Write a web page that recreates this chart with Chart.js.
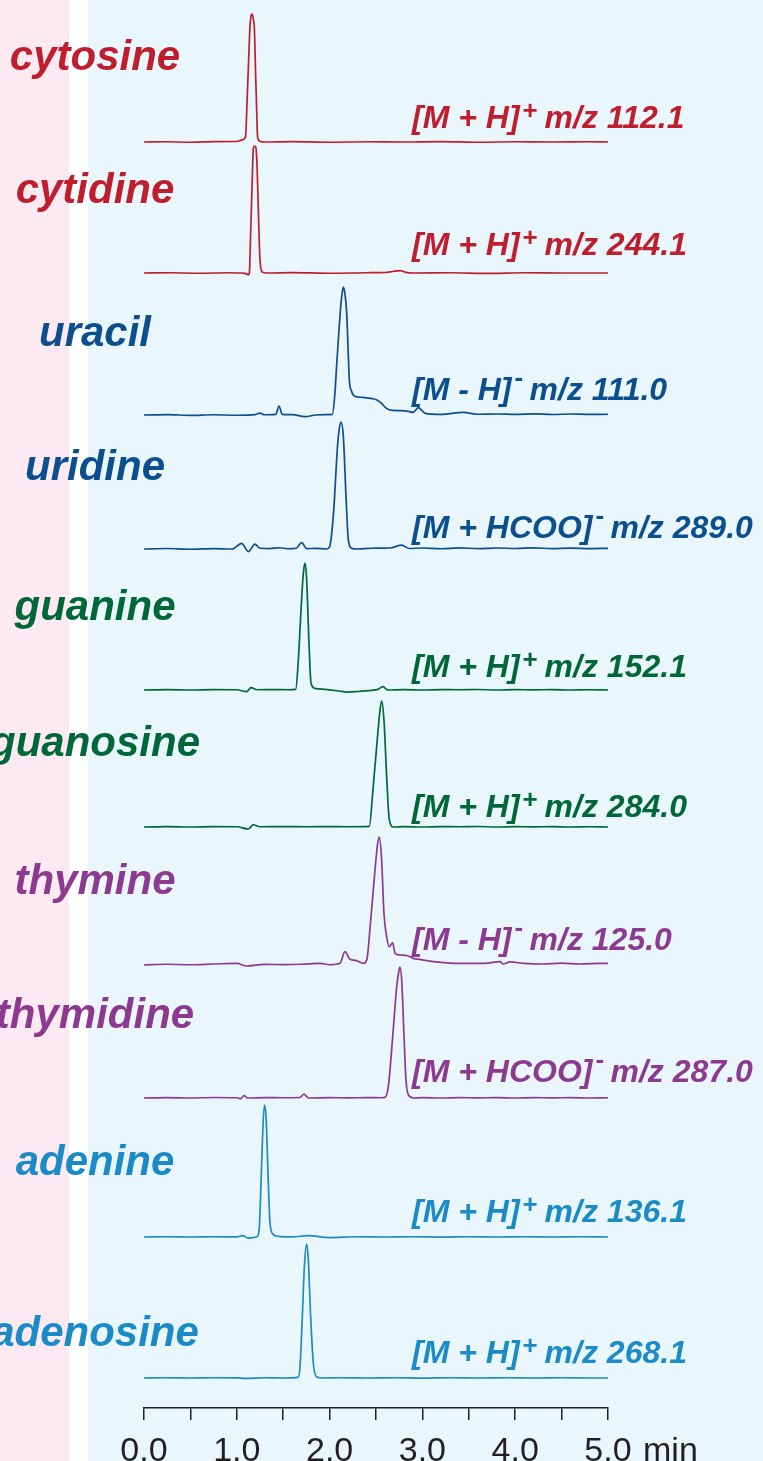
<!DOCTYPE html>
<html>
<head>
<meta charset="utf-8">
<script src="https://cdn.jsdelivr.net/npm/chart.js@4.4.0/dist/chart.umd.min.js"></script>
<style>
html, body { margin: 0; padding: 0; }
body {
  width: 763px; height: 1461px; overflow: hidden;
  background: linear-gradient(to right, #fce9f1 0, #fce9f1 69px, #ffffff 69px, #ffffff 88px, #e9f6fc 88px);
}
canvas { display: block; }
</style>
</head>
<body>
<canvas id="chart" width="763" height="1461"></canvas>
<script>
// compounds, top to bottom
const compounds = ['cytosine', 'cytidine', 'uracil', 'uridine', 'guanine', 'guanosine', 'thymine', 'thymidine', 'adenine', 'adenosine'];
const ionType = ['[M + H]', '[M + H]', '[M - H]', '[M + HCOO]', '[M + H]', '[M + H]', '[M - H]', '[M + HCOO]', '[M + H]', '[M + H]'];
const ionCharge = ['+', '+', '-', '-', '+', '+', '-', '-', '+', '+'];
const mzValues = ['112.1', '244.1', '111.0', '289.0', '152.1', '284.0', '125.0', '287.0', '136.1', '268.1'];
const xTicks = [0, 0.5, 1, 1.5, 2, 2.5, 3, 3.5, 4, 4.5, 5];

// retention time (min) and relative intensity (% of peak)
const cytosineTime = [0, 0.25, 0.5, 0.75, 1.0, 1.05, 1.094, 1.11, 1.126, 1.142, 1.155, 1.166, 1.178, 1.19, 1.202, 1.214, 1.224, 1.25, 1.3, 1.6, 2.0, 2.4, 2.8, 3.2, 3.6, 4.0, 4.4, 4.8, 5.0];
const cytosineSignal = [0, 0.2, -0.2, 0.3, 0.4, 1.5, 4, 30, 61, 90, 99, 100, 96, 88, 55, 25, 4, 0.5, 0, 0.3, -0.2, 0.2, 0, 0.3, -0.2, 0.2, 0, 0.2, 0];

const cytidineTime = [0, 0.3, 0.6, 0.9, 1.05, 1.1, 1.121, 1.135, 1.15, 1.165, 1.178, 1.19, 1.205, 1.218, 1.232, 1.245, 1.258, 1.28, 1.32, 1.6, 2.0, 2.4, 2.6, 2.68, 2.76, 2.82, 2.9, 3.3, 3.7, 4.1, 4.5, 5.0];
const cytidineSignal = [0, 0.2, -0.2, 0.2, 0, -0.5, -1.5, 0, 33, 70, 98, 100, 99, 85, 50, 18, 4, 0.5, 0, 0.3, -0.2, 0.2, 0.4, 1.2, 1.8, 0.5, 0, 0.2, -0.3, 0.2, 0, 0];

const uracilTime = [0, 0.25, 0.5, 0.75, 1.0, 1.2, 1.25, 1.3, 1.42, 1.455, 1.49, 1.6, 1.735, 1.85, 1.95, 2.03, 2.055, 2.077, 2.1, 2.12, 2.135, 2.148, 2.165, 2.184, 2.2, 2.213, 2.235, 2.255, 2.28, 2.31, 2.36, 2.42, 2.47, 2.51, 2.56, 2.6, 2.65, 2.76, 2.85, 2.9, 2.956, 3.03, 3.2, 3.44, 3.6, 3.8, 4.0, 4.2, 4.4, 4.6, 4.8, 5.0];
const uracilSignal = [0, 0.3, -0.3, 0.2, -0.2, 0.3, 1.5, 0.2, 0.5, 7, 0.5, 0.3, -1.3, 0, 0.3, 0.5, 15, 40, 65, 85, 95, 100, 95, 80, 50, 27, 19, 15.6, 14.5, 14, 13.8, 13.2, 12.7, 11.7, 9, 6, 3.9, 3.4, 2.8, 2.1, 5.7, 1.3, 0.5, 2, 0.6, 0.8, 0.5, 0.9, 0.4, 0.8, 0.5, 0.6];

const uridineTime = [0, 0.25, 0.5, 0.75, 0.95, 1.053, 1.124, 1.196, 1.243, 1.35, 1.466, 1.55, 1.64, 1.699, 1.753, 1.85, 1.968, 2.0, 2.042, 2.085, 2.105, 2.123, 2.148, 2.177, 2.202, 2.238, 2.3, 2.45, 2.65, 2.777, 2.86, 3.0, 3.2, 3.4, 3.6, 3.8, 4.0, 4.2, 4.4, 4.6, 4.8, 5.0];
const uridineSignal = [0, 0.4, -0.2, 0.3, 0, 4.5, -2.1, 3.9, 0.8, 0.3, 1, 0.2, 0.6, 5, 0.3, 0.5, 0, 1.8, 28, 80.5, 95, 100, 88.6, 41, 7, 0.5, 0, 0.6, 0.8, 3, 0.4, 0.8, 0.2, 0.9, 0.3, 0.8, 0.4, 0.9, 0.3, 0.7, 0.3, 0.5];

const guanineTime = [0, 0.25, 0.5, 0.75, 1.0, 1.106, 1.153, 1.22, 1.4, 1.55, 1.635, 1.663, 1.692, 1.717, 1.735, 1.753, 1.778, 1.8, 1.843, 1.95, 2.1, 2.184, 2.3, 2.45, 2.52, 2.572, 2.63, 2.8, 3.0, 3.2, 3.4, 3.6, 3.8, 4.0, 4.2, 4.4, 4.6, 4.8, 5.0];
const guanineSignal = [0, 0.3, 0, 0.3, 0.2, -1.3, 1.8, 0.2, 0.3, 0.2, 0.5, 23.6, 63, 92, 100, 86.6, 36.8, 5.3, 1.3, 0.5, -0.8, -1.6, -1.2, -0.3, 0.5, 2.6, 0, 0.3, 0, 0.3, 0.2, 0.4, 0, 0.3, 0.1, 0.3, 0, 0.2, 0];

const guanosineTime = [0, 0.25, 0.5, 0.75, 1.0, 1.124, 1.178, 1.25, 1.5, 1.75, 2.0, 2.2, 2.428, 2.464, 2.507, 2.543, 2.561, 2.586, 2.615, 2.643, 2.687, 2.8, 3.0, 3.2, 3.4, 3.6, 3.8, 4.0, 4.2, 4.4, 4.6, 4.8, 5.0];
const guanosineSignal = [0, 0.3, 0, 0.3, 0.2, -1.6, 1.8, 0.2, 0.3, 0.2, 0.3, 0.2, 0.5, 26.8, 63.7, 92.6, 100, 84.7, 40, 5.8, 0, 0.3, 0, 0.3, 0.2, 0.4, 0, 0.3, 0.1, 0.3, 0, 0.2, 0];

const thymineTime = [0, 0.25, 0.5, 0.75, 1.0, 1.106, 1.3, 1.5, 1.7, 1.897, 2.0, 2.112, 2.166, 2.22, 2.292, 2.363, 2.4, 2.443, 2.489, 2.518, 2.536, 2.561, 2.586, 2.615, 2.643, 2.68, 2.705, 2.759, 2.848, 2.902, 2.974, 3.118, 3.297, 3.5, 3.7, 3.836, 3.87, 3.944, 4.1, 4.3, 4.5, 4.7, 4.9, 5.0];
const thymineSignal = [0, 0.6, 0.2, 0.8, 1.3, -0.8, 0.5, 0.3, 0.6, 1.3, 0.2, 1.3, 10.4, 4.4, 3.4, 1.3, 3.9, 35, 74, 94.8, 100, 81.8, 40, 22, 14.3, 17.4, 9.1, 7.8, 7, 5.2, 4.4, 2.6, 1.5, 1.2, 1.5, 2.6, 0.8, 2.4, 1.2, 0.8, 1.4, 0.8, 1.2, 1.3];

const thymidineTime = [0, 0.25, 0.5, 0.75, 1.0, 1.04, 1.078, 1.12, 1.3, 1.5, 1.68, 1.724, 1.771, 2.0, 2.2, 2.4, 2.55, 2.597, 2.633, 2.68, 2.723, 2.748, 2.759, 2.777, 2.802, 2.823, 2.848, 2.902, 3.0, 3.2, 3.4, 3.6, 3.8, 4.0, 4.2, 4.4, 4.6, 4.8, 5.0];
const thymidineSignal = [0, 0.3, 0, 0.4, 0.2, -0.5, 1.8, 0, 0.3, 0.2, 0.4, 3, 0, 0.3, 0.1, 0.3, 0.2, 0.5, 8.8, 46.8, 84.8, 97.5, 100, 89.9, 46.8, 13.9, 2.5, 0, 0.3, 0, 0.3, 0.1, 0.3, 0, 0.3, 0.1, 0.3, 0, 0.2];

const adenineTime = [0, 0.25, 0.5, 0.75, 1.0, 1.063, 1.124, 1.225, 1.243, 1.261, 1.279, 1.297, 1.315, 1.34, 1.358, 1.394, 1.448, 1.6, 1.771, 2.0, 2.3, 2.6, 2.9, 3.2, 3.5, 3.8, 4.1, 4.4, 4.7, 5.0];
const adenineSignal = [0, 0.2, 0, 0.2, 0.1, 1, -0.8, 0.5, 8, 40.8, 78.6, 100, 91.3, 40.8, 10.6, 1.8, 0.5, 0.1, 1, -0.4, 0.2, 0, 0.2, -0.1, 0.2, 0, 0.2, 0, 0.2, 0];

const adenosineTime = [0, 0.25, 0.5, 0.75, 1.0, 1.1, 1.3, 1.5, 1.663, 1.681, 1.706, 1.728, 1.753, 1.771, 1.796, 1.825, 1.861, 1.915, 2.1, 2.4, 2.7, 3.0, 3.3, 3.6, 3.9, 4.2, 4.5, 4.8, 5.0];
const adenosineSignal = [0, 0.2, 0, 0.2, 0.1, -0.3, 0.2, 0, 0.7, 8.2, 45.6, 83, 100, 88, 45.6, 10.8, 0.7, 0, 0.2, 0, 0.2, -0.1, 0.2, 0, 0.2, 0, 0.2, 0, 0];

const traceTimes = [cytosineTime, cytidineTime, uracilTime, uridineTime, guanineTime, guanosineTime, thymineTime, thymidineTime, adenineTime, adenosineTime];
const traceSignals = [cytosineSignal, cytidineSignal, uracilSignal, uridineSignal, guanineSignal, guanosineSignal, thymineSignal, thymidineSignal, adenineSignal, adenosineSignal];

// layout (pixels): where each trace's 0 % and 100 % sit, and its labels
const baseRow = [142, 273, 415, 549, 690, 827, 965, 1098, 1237, 1378];
const peakRow = [14, 146, 287, 422, 563, 701, 837, 967, 1105, 1244];
const nameRow = [70, 203, 346, 480, 620, 756, 894, 1028, 1175, 1346];
const ionRow = [128, 255, 400, 538, 677, 817, 950, 1082, 1222, 1363];
const nameX = 95, ionX = 412;
const plotTop = 0, plotBottom = 1408;
const colors = ['#be1e2d', '#be1e2d', '#0b4f8e', '#0b4f8e', '#006838', '#006838', '#8b3a8f', '#8b3a8f', '#1b8bc8', '#1b8bc8'];
const FONT = '"Liberation Sans", Arial, Helvetica, sans-serif';

const datasets = compounds.map((name, i) => ({
  label: name,
  data: traceTimes[i].map((t, j) => ({ x: t, y: traceSignals[i][j] })),
  yAxisID: 'y' + i,
  borderColor: colors[i],
  borderWidth: 1.7,
  pointRadius: 0,
  cubicInterpolationMode: 'monotone',
  fill: false,
  clip: false
}));

const scales = {
  x: {
    type: 'linear',
    min: 0,
    max: 5,
    afterFit(scale) { scale.height = 1461 - plotBottom; },
    afterBuildTicks(scale) { scale.ticks = xTicks.map(v => ({ value: v })); },
    ticks: {
      autoSkip: false,
      maxRotation: 0,
      padding: 11,
      color: '#231f20',
      font: { family: FONT, size: 34 },
      callback: v => (Number.isInteger(v) ? v.toFixed(1) : '')
    },
    grid: { drawOnChartArea: false, drawTicks: true, tickLength: 12, color: '#231f20', lineWidth: 1.5 },
    border: { display: true, color: '#231f20', width: 1.5 }
  }
};
// one hidden y axis per trace so that 0 % lands on its baseline and 100 % on its apex
compounds.forEach((name, i) => {
  const h = plotBottom - plotTop;
  const k = (baseRow[i] - peakRow[i]) / 100;
  const min = -(plotBottom - baseRow[i]) / k;
  scales['y' + i] = { type: 'linear', display: false, min: min, max: min + h / k };
});

const labelPlugin = {
  id: 'traceLabels',
  afterDraw(chart) {
    const ctx = chart.ctx;
    const xs = chart.scales.x;
    ctx.save();
    compounds.forEach((name, i) => {
      ctx.fillStyle = colors[i];
      ctx.textBaseline = 'alphabetic';
      ctx.textAlign = 'center';
      ctx.font = 'italic bold 42px ' + FONT;
      ctx.fillText(name, nameX, nameRow[i]);

      ctx.textAlign = 'left';
      ctx.font = 'italic bold 32px ' + FONT;
      let x = ionX;
      ctx.fillText(ionType[i], x, ionRow[i]);
      x += ctx.measureText(ionType[i]).width + 3;
      ctx.font = 'bold 26px ' + FONT;
      if (ionCharge[i] === '+') {
        ctx.fillText('+', x, ionRow[i] - 9);
        x += ctx.measureText('+').width - 2;
      } else {
        ctx.fillText('-', x, ionRow[i] - 14);
        x += ctx.measureText('+').width - 9;
      }
      ctx.font = 'italic bold 32px ' + FONT;
      ctx.fillText(' m/z ' + mzValues[i], x, ionRow[i]);
    });
    ctx.fillStyle = '#231f20';
    ctx.font = '34px ' + FONT;
    ctx.textAlign = 'left';
    ctx.textBaseline = 'alphabetic';
    ctx.fillText('min', xs.getPixelForValue(5) + 35, 1461);
    ctx.restore();
  }
};

new Chart(document.getElementById('chart'), {
  type: 'line',
  data: { datasets: datasets },
  options: {
    responsive: false,
    animation: false,
    devicePixelRatio: 1,
    layout: { padding: { left: 144, right: 155, top: plotTop, bottom: 0 } },
    plugins: { legend: { display: false }, tooltip: { enabled: false } },
    scales: scales
  },
  plugins: [labelPlugin]
});
</script>
</body>
</html>
